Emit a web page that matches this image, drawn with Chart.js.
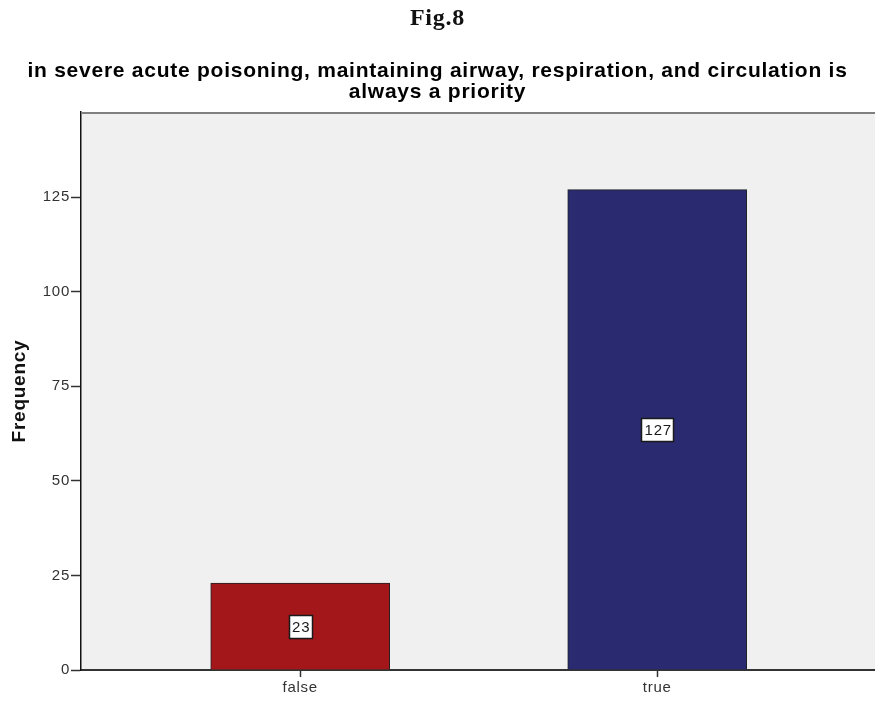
<!DOCTYPE html>
<html><head><meta charset="utf-8">
<script src="https://cdn.jsdelivr.net/npm/chart.js@4/dist/chart.umd.min.js"></script>
<style>html,body{margin:0;padding:0;background:#fff}#wrap{width:875px;height:702px;position:relative}</style>
</head><body><div id="wrap"><canvas id="c" width="875" height="702"></canvas></div>
<script>
const figLabel = 'Fig.8';
const chartTitle = ['in severe acute poisoning, maintaining airway, respiration, and circulation is', 'always a priority'];
const categories = ['false', 'true'];
const frequencies = [23, 127];
const barColors = ['#A3161A', '#292A6F'];
const yTicks = [0, 25, 50, 75, 100, 125];
const yAxisTitle = 'Frequency';

const bgPlugin = {
  id: 'bg',
  beforeDraw(chart) {
    const a = chart.chartArea, ctx = chart.ctx;
    ctx.save();
    ctx.fillStyle = '#F0F0F0';
    ctx.fillRect(a.left, a.top, a.right - a.left, a.bottom - a.top);
    ctx.restore();
    if ('letterSpacing' in ctx) ctx.letterSpacing = '0.75px';
  },
  afterDraw(chart) {
    const a = chart.chartArea, ctx = chart.ctx;
    ctx.save();
    ctx.strokeStyle = '#7f7f7f';
    ctx.lineWidth = 2;
    ctx.beginPath();
    ctx.moveTo(a.left, a.top + 1);
    ctx.lineTo(a.right, a.top + 1);
    ctx.stroke();
    ctx.restore();
    if ('letterSpacing' in ctx) ctx.letterSpacing = '0px';
  }
};

const labelPlugin = {
  id: 'vals',
  afterDatasetsDraw(chart) {
    const ctx = chart.ctx;
    const meta = chart.getDatasetMeta(0);
    ctx.save();
    ctx.font = '15px "Liberation Sans", Arial, sans-serif';
    ctx.textAlign = 'center';
    ctx.textBaseline = 'middle';
    meta.data.forEach((el, i) => {
      const txt = String(frequencies[i]);
      const cy = (el.y + el.base) / 2;
      const w = Math.round(ctx.measureText(txt).width + 5);
      const h = 23;
      const x0 = Math.round(el.x - w / 2), y0 = Math.round(cy - h / 2);
      ctx.fillStyle = '#fff';
      ctx.fillRect(x0, y0, w, h);
      ctx.strokeStyle = '#1a1a1a';
      ctx.lineWidth = 1.5;
      ctx.strokeRect(x0 + 0.5, y0 + 0.5, w, h);
      ctx.fillStyle = '#1a1a1a';
      ctx.fillText(txt, el.x + 1, cy + 1.5);
    });
    ctx.restore();
  }
};

new Chart(document.getElementById('c'), {
  type: 'bar',
  data: {
    datasets: [{
      data: categories.map((c, i) => ({ x: i + 1, y: frequencies[i] })),
      backgroundColor: barColors,
      borderColor: '#222',
      borderWidth: 1,
      barThickness: 179
    }]
  },
  options: {
    responsive: false,
    animation: false,
    layout: { padding: { left: 0, right: 0, top: 0, bottom: 0 } },
    plugins: {
      legend: { display: false },
      tooltip: { enabled: false },
      title: {
        display: true,
        text: figLabel,
        color: '#111',
        font: { family: '"Liberation Serif", "DejaVu Serif", serif', size: 24, weight: 'bold', lineHeight: 1 },
        padding: { top: 7, bottom: 30 }
      },
      subtitle: {
        display: true,
        text: chartTitle,
        color: '#000',
        font: { family: '"Liberation Sans", Arial, sans-serif', size: 21, weight: 'bold', lineHeight: 1 },
        padding: { top: 0, bottom: 9 }
      }
    },
    scales: {
      x: {
        type: 'linear',
        offset: false,
        min: 0.386,
        max: 2.61,
        afterBuildTicks(scale) { scale.ticks = categories.map((c, i) => ({ value: i + 1 })); },
        afterFit(scale) { scale.height = 32; },
        ticks: {
          callback: (v) => categories[v - 1],
          color: '#333',
          font: { family: '"Liberation Sans", Arial, sans-serif', size: 15 },
          padding: 2,
          maxRotation: 0
        },
        grid: { display: true, offset: false, drawOnChartArea: false, drawTicks: true, tickLength: 7, color: '#333', tickWidth: 1.5 },
        border: { display: true, color: '#333', width: 2 }
      },
      y: {
        min: 0,
        max: 147.5,
        afterBuildTicks(scale) { scale.ticks = yTicks.map(v => ({ value: v })); },
        afterFit(scale) { scale.width = 81; },
        ticks: {
          color: '#333',
          font: { family: '"Liberation Sans", Arial, sans-serif', size: 15 },
          padding: 1
        },
        grid: { display: true, drawOnChartArea: false, drawTicks: true, tickLength: 10, color: '#333', tickWidth: 1.5 },
        border: { display: true, color: '#111', width: 1.5 },
        title: {
          display: true,
          text: yAxisTitle,
          color: '#111',
          font: { family: '"Liberation Sans", Arial, sans-serif', size: 19, weight: 'bold' },
          padding: { top: 8, bottom: 0 }
        }
      }
    }
  },
  plugins: [bgPlugin, labelPlugin]
});
</script>
</body></html>
